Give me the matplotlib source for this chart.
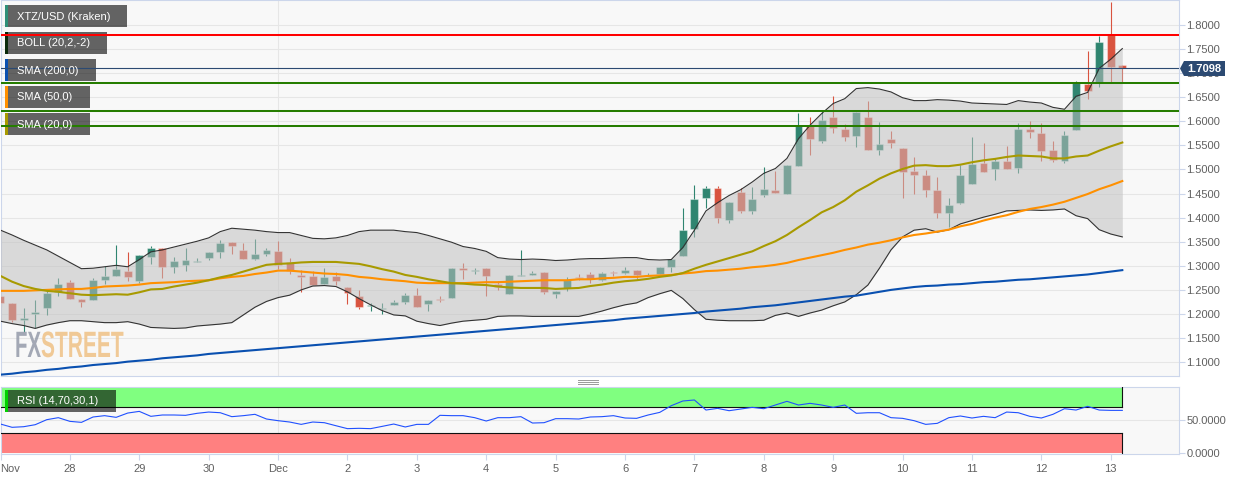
import matplotlib
matplotlib.use('Agg')
import matplotlib.pyplot as plt
import matplotlib.transforms as mtransforms
import matplotlib.patheffects as path_effects
from matplotlib.patches import Rectangle, Polygon

W, H = 1244, 480

# 4 hour candles, XTZ/USD
opens = [1.237,1.222,1.187,1.200,1.212,1.245,1.266,1.231,1.230,1.270,
         1.279,1.290,1.268,1.318,1.336,1.298,1.302,1.308,1.317,1.329,
         1.350,1.333,1.315,1.324,1.331,1.307,1.281,1.279,1.262,1.279,
         1.255,1.237,1.216,1.210,1.218,1.225,1.239,1.221,1.231,1.233,
         1.296,1.290,1.295,1.262,1.242,1.279,1.281,1.287,1.241,1.254,
         1.277,1.284,1.270,1.288,1.286,1.292,1.279,1.282,1.297,1.320,
         1.376,1.441,1.462,1.396,1.454,1.414,1.447,1.458,1.450,1.508,
         1.592,1.560,1.609,1.584,1.570,1.609,1.541,1.564,1.545,1.496,
         1.488,1.458,1.410,1.430,1.470,1.513,1.501,1.517,1.503,1.584,
         1.575,1.541,1.517,1.581,1.677,1.681,1.780,1.717]
highs = [1.240,1.222,1.212,1.229,1.250,1.274,1.270,1.231,1.274,1.300,
         1.344,1.328,1.322,1.341,1.338,1.319,1.338,1.317,1.329,1.353,
         1.350,1.347,1.355,1.336,1.351,1.317,1.291,1.290,1.295,1.288,
         1.256,1.250,1.223,1.222,1.229,1.244,1.254,1.230,1.238,1.295,
         1.306,1.296,1.295,1.268,1.280,1.332,1.290,1.287,1.247,1.277,
         1.284,1.288,1.287,1.290,1.298,1.292,1.286,1.297,1.315,1.421,
         1.467,1.466,1.466,1.432,1.461,1.464,1.506,1.497,1.509,1.618,
         1.608,1.620,1.652,1.595,1.620,1.643,1.599,1.579,1.545,1.526,
         1.499,1.485,1.440,1.510,1.567,1.555,1.524,1.548,1.596,1.600,
         1.596,1.560,1.580,1.684,1.745,1.778,1.847,1.717]
lows = [1.215,1.184,1.163,1.170,1.198,1.238,1.232,1.214,1.229,1.263,
        1.279,1.269,1.265,1.303,1.275,1.286,1.290,1.307,1.312,1.317,
        1.324,1.314,1.313,1.321,1.293,1.282,1.246,1.260,1.262,1.260,
        1.221,1.210,1.207,1.200,1.218,1.221,1.214,1.206,1.224,1.233,
        1.272,1.283,1.238,1.249,1.242,1.278,1.281,1.241,1.233,1.248,
        1.271,1.264,1.268,1.278,1.284,1.272,1.279,1.282,1.287,1.320,
        1.360,1.421,1.389,1.389,1.410,1.408,1.443,1.452,1.450,1.508,
        1.531,1.554,1.576,1.560,1.547,1.540,1.530,1.545,1.440,1.450,
        1.442,1.400,1.381,1.429,1.470,1.494,1.479,1.502,1.492,1.565,
        1.517,1.515,1.513,1.581,1.647,1.671,1.681,1.681]
closes = [1.222,1.187,1.191,1.205,1.243,1.263,1.232,1.225,1.270,1.279,
          1.294,1.276,1.322,1.338,1.298,1.311,1.313,1.311,1.329,1.347,
          1.342,1.314,1.324,1.333,1.302,1.290,1.277,1.260,1.277,1.268,
          1.244,1.214,1.218,1.212,1.225,1.239,1.214,1.230,1.229,1.295,
          1.291,1.291,1.279,1.257,1.280,1.280,1.286,1.246,1.247,1.271,
          1.275,1.273,1.286,1.286,1.292,1.280,1.281,1.297,1.315,1.374,
          1.439,1.462,1.399,1.432,1.413,1.439,1.460,1.452,1.509,1.590,
          1.563,1.602,1.587,1.568,1.620,1.540,1.553,1.555,1.494,1.489,
          1.458,1.410,1.426,1.489,1.512,1.494,1.518,1.502,1.584,1.578,
          1.539,1.519,1.571,1.679,1.662,1.764,1.712,1.7098]

boll_upper = [1.374,1.364,1.353,1.343,1.333,1.320,1.307,1.294,1.295,1.298,
              1.301,1.298,1.313,1.329,1.333,1.339,1.345,1.351,1.358,1.371,
              1.378,1.376,1.374,1.371,1.369,1.369,1.363,1.357,1.356,1.358,
              1.363,1.371,1.374,1.374,1.374,1.371,1.369,1.363,1.356,1.349,
              1.340,1.336,1.330,1.317,1.314,1.313,1.314,1.313,1.311,1.312,
              1.314,1.315,1.315,1.316,1.317,1.317,1.313,1.312,1.313,1.338,
              1.374,1.414,1.431,1.446,1.458,1.474,1.492,1.502,1.523,1.564,
              1.592,1.616,1.637,1.647,1.668,1.670,1.667,1.661,1.649,1.643,
              1.643,1.645,1.644,1.642,1.638,1.637,1.636,1.635,1.643,1.640,
              1.638,1.629,1.625,1.652,1.660,1.710,1.729,1.751]
boll_lower = [1.185,1.180,1.176,1.170,1.177,1.182,1.186,1.186,1.184,1.182,
              1.182,1.184,1.179,1.172,1.171,1.170,1.171,1.175,1.177,1.179,
              1.182,1.198,1.214,1.226,1.234,1.239,1.250,1.258,1.259,1.257,
              1.246,1.232,1.219,1.207,1.198,1.196,1.185,1.180,1.176,1.181,
              1.185,1.187,1.189,1.195,1.196,1.196,1.195,1.195,1.195,1.195,
              1.195,1.200,1.206,1.213,1.219,1.223,1.234,1.242,1.249,1.232,
              1.209,1.189,1.187,1.186,1.186,1.186,1.187,1.197,1.202,1.195,
              1.202,1.208,1.217,1.225,1.240,1.260,1.295,1.333,1.360,1.374,
              1.377,1.370,1.375,1.387,1.394,1.401,1.407,1.414,1.415,1.416,
              1.415,1.416,1.418,1.404,1.398,1.375,1.366,1.360]
sma20 = [1.279,1.267,1.258,1.252,1.248,1.246,1.243,1.240,1.239,1.240,
         1.241,1.240,1.245,1.251,1.252,1.257,1.261,1.265,1.270,1.276,
         1.281,1.288,1.295,1.302,1.304,1.305,1.307,1.308,1.308,1.308,
         1.306,1.304,1.299,1.293,1.288,1.281,1.277,1.272,1.268,1.264,
         1.263,1.261,1.260,1.257,1.255,1.254,1.254,1.254,1.252,1.253,
         1.254,1.258,1.261,1.265,1.268,1.270,1.273,1.277,1.280,1.285,
         1.294,1.302,1.309,1.316,1.323,1.330,1.341,1.351,1.364,1.380,
         1.395,1.411,1.422,1.436,1.454,1.467,1.481,1.492,1.501,1.508,
         1.509,1.507,1.507,1.510,1.515,1.519,1.522,1.526,1.529,1.528,
         1.527,1.523,1.523,1.527,1.529,1.539,1.548,1.556]
sma50 = [1.248,1.248,1.248,1.249,1.250,1.251,1.252,1.252,1.254,1.257,
         1.258,1.259,1.261,1.264,1.265,1.266,1.268,1.269,1.270,1.274,
         1.277,1.279,1.283,1.286,1.290,1.290,1.288,1.286,1.284,1.283,
         1.281,1.277,1.275,1.272,1.270,1.268,1.265,1.264,1.264,1.264,
         1.264,1.265,1.266,1.266,1.267,1.268,1.269,1.270,1.270,1.270,
         1.272,1.272,1.274,1.275,1.277,1.277,1.279,1.280,1.281,1.284,
         1.286,1.289,1.290,1.292,1.294,1.297,1.299,1.302,1.306,1.312,
         1.317,1.322,1.327,1.333,1.338,1.344,1.348,1.353,1.359,1.364,
         1.367,1.371,1.375,1.382,1.387,1.394,1.400,1.405,1.412,1.418,
         1.422,1.427,1.433,1.441,1.449,1.459,1.467,1.476]
sma200 = [1.074,1.076,1.079,1.081,1.084,1.086,1.089,1.091,1.094,1.096,
          1.098,1.101,1.103,1.105,1.108,1.110,1.112,1.114,1.117,1.119,
          1.121,1.123,1.125,1.127,1.129,1.131,1.133,1.135,1.137,1.139,
          1.141,1.143,1.145,1.147,1.149,1.151,1.153,1.155,1.157,1.159,
          1.161,1.163,1.165,1.167,1.169,1.171,1.173,1.175,1.177,1.179,
          1.181,1.183,1.185,1.187,1.190,1.192,1.194,1.196,1.198,1.200,
          1.202,1.205,1.207,1.209,1.211,1.214,1.216,1.218,1.221,1.224,
          1.227,1.230,1.233,1.236,1.238,1.242,1.246,1.250,1.253,1.256,
          1.258,1.259,1.261,1.262,1.264,1.266,1.267,1.269,1.271,1.272,
          1.274,1.276,1.278,1.280,1.282,1.285,1.288,1.291]
rsi = [44.0,39.1,40.0,43.0,50.5,53.5,48.0,46.5,54.5,56.5,
       54.0,60.4,62.9,55.5,57.5,57.5,57.0,60.0,61.9,60.9,
       55.0,56.5,58.5,51.5,49.0,47.0,43.5,47.0,46.0,41.5,
       37.1,37.6,37.1,40.5,44.0,39.6,43.5,43.5,57.0,56.5,
       56.5,53.5,48.5,53.5,53.5,55.0,45.5,46.0,52.0,52.0,
       51.5,54.5,55.0,56.5,53.0,52.5,57.5,61.4,71.4,78.4,
       79.9,64.9,67.4,63.9,66.4,68.9,66.9,72.4,77.9,72.4,
       74.9,72.4,68.9,72.4,60.0,60.9,60.9,53.5,52.5,49.0,
       43.5,45.0,53.5,56.0,53.0,55.5,53.5,61.9,60.9,55.5,
       53.0,58.5,66.9,64.9,70.4,64.9,64.4,64.4]

price_ticks = [1.10,1.15,1.20,1.25,1.30,1.35,1.40,1.45,1.50,1.55,1.60,1.65,1.70,1.75,1.80]
green_levels = [1.680,1.621,1.590]
red_level = 1.779
last_price = 1.7098
day_labels = ['Nov','28','29','30','Dec','2','3','4','5','6','7','8','9','10','11','12','13']
day_pos = [0,6,12,18,24,30,36,42,48,54,60,66,72,78,84,90,96]

legend_items = [('XTZ/USD (Kraken)',5,127,'#2f8f78'),('BOLL (20,2,-2)',5,107,'#0a2a0a'),
                ('SMA (200,0)',5,96,'#0a50b0'),('SMA (50,0)',5,90,'#ff9000'),('SMA (20,0)',5,90,'#a89a00')]

UP = '#2f8570'
DOWN = '#d9533f'
BORDER = '#ccd6eb'
GRID = '#e6e6e6'
LABEL = '#606060'
FONT = ['Liberation Sans','DejaVu Sans']

plt.rcParams['font.family'] = FONT


# the logo lettering is very condensed, no installed font is that narrow
class Squeeze(path_effects.AbstractPathEffect):
    def __init__(self,sx,sy,dx=0):
        super().__init__()
        self.sx, self.sy, self.dx = sx, sy, dx

    def draw_path(self,renderer,gc,tpath,affine,rgbFace=None):
        t = mtransforms.Affine2D().scale(self.sx,self.sy) + affine + mtransforms.Affine2D().translate(self.dx,0)
        renderer.draw_path(gc,tpath,t,rgbFace)


fig = plt.figure(figsize=(W/100,H/100),dpi=100,facecolor='white')
# pixel coords, y going down
px = mtransforms.Affine2D().scale(1,-1).translate(0,H)

XMAX = 1178.5/11.57
ax = fig.add_axes([0.5/W,1-376/H,1178/W,376/H],facecolor='#f8f8f8')
ax2 = fig.add_axes([0.5/W,1-454/H,1178/W,67/H],facecolor='#f8f8f8')

x = list(range(len(closes)))

# grid
for a in (ax,ax2):
    a.set_xlim(0,XMAX)
    a.axvline(24,color=GRID,lw=0.8,zorder=1)
    for s in a.spines.values():
        s.set_color(BORDER)
        s.set_linewidth(0.8)
ax.set_ylim(1.0712,1.8519)
for p in price_ticks:
    ax.axhline(p,color=GRID,lw=0.8,zorder=1)

# candles go below the band so they get washed out inside it
for i in x:
    col = UP if closes[i] >= opens[i] else DOWN
    ax.vlines(i,lows[i],highs[i],color=col,lw=0.8,zorder=2)
    bot = min(opens[i],closes[i])
    ax.bar(i,abs(closes[i]-opens[i]),bottom=bot,width=0.68,color=col,zorder=3,
           edgecolor=(1,1,1,0.35),linewidth=0.8)

ax.fill_between(x,boll_lower,boll_upper,color='#bfbfbf',alpha=0.53,lw=0,zorder=4)
ax.plot(x,boll_upper,color='#333333',lw=0.8,zorder=5)
ax.plot(x,boll_lower,color='#333333',lw=0.8,zorder=5)
ax.plot(x,sma200,color='#0a50b0',lw=1.5,zorder=6)
ax.plot(x,sma50,color='#ff9000',lw=1.5,zorder=6)
ax.plot(x,sma20,color='#a89a00',lw=1.5,zorder=6)

# watermark
ax.text(2,357,'FX',transform=px,weight='bold',fontsize=22,color='#9aa0ae',va='baseline',ha='left',
        zorder=6,alpha=0.9,path_effects=[Squeeze(0.667,1.2,13)])
ax.text(41,357,'STREET',transform=px,weight='bold',fontsize=22,color='#f0c48c',va='baseline',ha='left',
        zorder=6,alpha=0.9,path_effects=[Squeeze(0.686,1.2)])

# legend boxes, horizontal levels are drawn on top of them
for n,(name,x0,x1,col) in enumerate(legend_items):
    y0 = 5+27*n
    ax.add_patch(Rectangle((x0,y0),x1-x0,22,transform=px,facecolor='black',alpha=0.6,lw=0,zorder=7,clip_on=False))
    ax.add_patch(Rectangle((x0,y0),3,22,transform=px,facecolor=col,lw=0,zorder=7.5,clip_on=False))
    ax.text(17,y0+11.5,name,transform=px,color='white',fontsize=8,va='center',ha='left',zorder=10)

ax.axhline(red_level,color='#ff0000',lw=1.45,zorder=8)
for lvl in green_levels:
    ax.axhline(lvl,color='#267d00',lw=1.45,zorder=8)
ax.axhline(last_price,color='#2c4a72',lw=0.8,zorder=8)

ax.yaxis.tick_right()
ax.set_yticks(price_ticks)
ax.set_yticklabels(['%.4f' % p for p in price_ticks],fontsize=8,color=LABEL)
ax.tick_params(axis='y',length=4,color=BORDER,width=0.8,pad=1.5)
ax.set_xticks([])

# last price flag
flag = Polygon([(1180,68.5),(1184,61),(1225,61),(1225,76),(1184,76)],transform=px,
               facecolor='#2c4a72',lw=0,clip_on=False,zorder=11)
ax.add_patch(flag)
ax.text(1204.5,68.8,'%.4f' % last_price,transform=px,color='white',fontsize=8,weight='bold',
        va='center',ha='center',zorder=12)

# RSI panel
ax2.set_ylim(-0.75,99.3)
ax2.axhline(50,color=GRID,lw=0.8,zorder=1)
ax2.add_patch(Rectangle((0,70),97,30,facecolor='#80ff80',lw=0,zorder=2))
ax2.add_patch(Rectangle((0,0),97,30,facecolor='#ff8080',lw=0,zorder=2))
ax2.plot([0,97],[70,70],color='#111111',lw=0.8,zorder=3)
ax2.plot([0,97],[30,30],color='#111111',lw=0.8,zorder=3)
ax2.plot([97,97],[70,99.3],color='#111111',lw=0.8,zorder=3)
ax2.plot([97,97],[0,30],color='#111111',lw=0.8,zorder=3)
ax2.plot(x,rsi,color='#2050ff',lw=0.8,zorder=4)

ax2.add_patch(Rectangle((5,390),111,22,transform=px,facecolor='black',alpha=0.6,lw=0,zorder=5,clip_on=False))
ax2.add_patch(Rectangle((5,390),3,22,transform=px,facecolor='#00d000',lw=0,zorder=5.5,clip_on=False))
ax2.text(17,401.5,'RSI (14,70,30,1)',transform=px,color='white',fontsize=8,va='center',ha='left',zorder=6)

ax2.yaxis.tick_right()
ax2.set_yticks([0,50])
ax2.set_yticklabels(['0.0000','50.0000'],fontsize=8,color=LABEL)
ax2.tick_params(axis='y',length=4,color=BORDER,width=0.8,pad=1.5)
ax2.set_xticks(day_pos)
ax2.set_xticklabels(day_labels,fontsize=8,color=LABEL)
ax2.tick_params(axis='x',length=4,color=BORDER,width=0.8,pad=3)
ax2.get_xticklabels()[0].set_ha('left')

# drag handle between the panels
for yy in (380,382,384):
    fig.add_artist(plt.Line2D([578/W,598/W],[1-yy/H,1-yy/H],color='#999999',lw=0.7))

fig.savefig('out.png',dpi=100)
